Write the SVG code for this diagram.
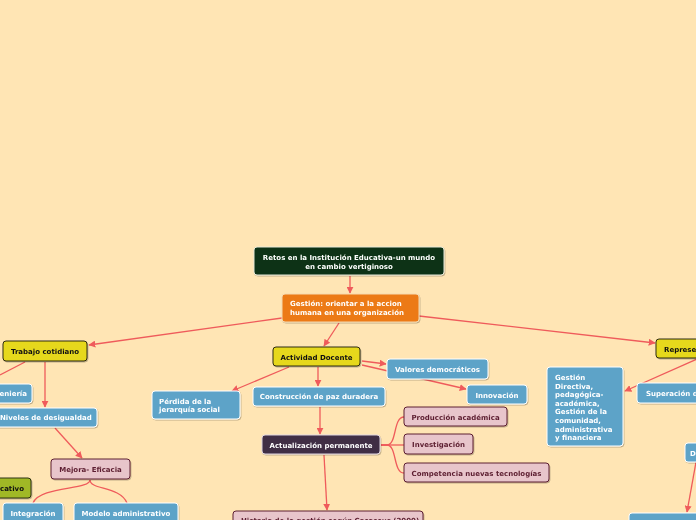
<svg xmlns="http://www.w3.org/2000/svg" width="696" height="520" viewBox="0 0 696 520">
<style>
text{font-family:"DejaVu Sans","Verdana",sans-serif;font-weight:bold;font-size:7px}
.blue rect{fill:#5DA3C8;stroke:#ffffff;stroke-width:1}
.blue text{fill:#ffffff}
.pink rect{fill:#E8C5CB;stroke:#5C1E30;stroke-width:1}
.pink text{fill:#5C1E30}
.yellow rect{fill:#E6D81E;stroke:#2E2A10;stroke-width:1}
.yellow text{fill:#111111}
.olive rect{fill:#A0B828;stroke:#2E3310;stroke-width:1}
.olive text{fill:#111111}
.dark rect{fill:#3F2D45;stroke:#E0D6E0;stroke-width:1}
.dark text{fill:#ffffff}
.orange rect{fill:#EC7A14;stroke:#F5D9B0;stroke-width:1}
.orange text{fill:#ffffff}
.green rect{fill:#0A3314;stroke:#E8E8D8;stroke-width:1}
.green text{fill:#ffffff}
.c{text-anchor:middle}
.e{text-anchor:end}
#connectors path{fill:none;stroke:#EF5B5B;stroke-width:1.3}
.arr{marker-end:url(#ah)}
g.n{filter:url(#sh)}
</style>
<defs>
<marker id="ah" viewBox="0 0 10 10" refX="9" refY="5" markerWidth="7" markerHeight="7" markerUnits="userSpaceOnUse" orient="auto">
<path d="M0,0 L10,5 L0,10 z" fill="#EF5B5B"/>
</marker>
<filter id="sh" x="-10%" y="-20%" width="130%" height="150%">
<feDropShadow dx="0.8" dy="1" stdDeviation="0.7" flood-color="#000" flood-opacity="0.25"/>
</filter>
</defs>
<rect x="0" y="0" width="696" height="520" fill="#FFE5B4"/>

<g id="connectors">
<path class="arr" d="M350,276 L350,293"/>
<path class="arr" d="M282,318 L89,345"/>
<path class="arr" d="M339,323 L324,346"/>
<path class="arr" d="M419,316 L655,343"/>
<path d="M25,362 L0,375"/>
<path class="arr" d="M45,362 L45,407"/>
<path class="arr" d="M55,428 L82,458"/>
<path d="M90,480 C90,490 40,486 33,503"/>
<path d="M90,480 C90,490 120,486 127,503"/>
<path class="arr" d="M289,367 L232,391"/>
<path class="arr" d="M318,367 L318,386"/>
<path class="arr" d="M362,361 L386,364"/>
<path class="arr" d="M362,365 L466,389"/>
<path class="arr" d="M320,407 L320,434"/>
<path d="M381,445 L387,445 C397,445 393,417 404,417"/>
<path d="M381,445 L404,445"/>
<path d="M381,445 L387,445 C397,445 393,473 404,473"/>
<path class="arr" d="M324,455 L327,510"/>
<path class="arr" d="M697,359 L625,391"/>
<path class="arr" d="M696,462 L687,512"/>
</g>

<g id="root" class="n green">
<rect x="254" y="247" width="190" height="28" rx="3"/>
<text class="c" x="349" y="259.5">Retos en la Institución Educativa-un mundo</text>
<text class="c" x="349" y="268.5">en cambio vertiginoso</text>
</g>

<g id="gestion" class="n orange">
<rect x="282" y="294" width="137" height="28" rx="3"/>
<text x="290" y="305.5">Gestión: orientar a la accion</text>
<text x="290" y="314.5">humana en una organización</text>
</g>

<g id="trabajo" class="n yellow">
<rect x="3" y="341" width="84" height="20" rx="3"/>
<text class="c" x="45" y="353.5">Trabajo cotidiano</text>
</g>

<g id="ingenieria" class="n blue">
<rect x="-40" y="384" width="72" height="19" rx="3"/>
<text class="e" x="27" y="396">Ingeniería</text>
</g>

<g id="niveles" class="n blue">
<rect x="-8" y="408" width="105" height="19" rx="3"/>
<text x="0" y="420">Niveles de desigualdad</text>
</g>

<g id="mejora" class="n pink">
<rect x="51" y="459" width="79" height="20" rx="3"/>
<text class="c" x="90.5" y="471.5">Mejora- Eficacia</text>
</g>

<g id="educativo" class="n olive">
<rect x="-40" y="478" width="71" height="20" rx="3"/>
<text class="e" x="24" y="490.5">Educativo</text>
</g>

<g id="integracion" class="n blue">
<rect x="3" y="503" width="60" height="24" rx="3"/>
<text class="c" x="33" y="516">Integración</text>
</g>

<g id="modelo" class="n blue">
<rect x="74" y="503" width="104" height="24" rx="3"/>
<text class="c" x="126" y="516">Modelo administrativo</text>
</g>

<g id="actividad" class="n yellow">
<rect x="273" y="347" width="87" height="19" rx="3"/>
<text class="c" x="316.5" y="359.5">Actividad Docente</text>
</g>

<g id="perdida" class="n blue">
<rect x="152" y="391" width="88" height="28" rx="3"/>
<text x="159" y="403.5">Pérdida de la</text>
<text x="159" y="411.5">jerarquía social</text>
</g>

<g id="construccion" class="n blue">
<rect x="253" y="387" width="132" height="19" rx="3"/>
<text class="c" x="319" y="399">Construcción de paz duradera</text>
</g>

<g id="valores" class="n blue">
<rect x="387" y="359" width="101" height="20" rx="3"/>
<text class="c" x="437.5" y="371.5">Valores democráticos</text>
</g>

<g id="innovacion" class="n blue">
<rect x="467" y="385" width="60" height="19" rx="3"/>
<text class="c" x="497" y="397.5">Innovación</text>
</g>

<g id="actualizacion" class="n dark">
<rect x="262" y="435" width="118" height="19" rx="3"/>
<text class="c" x="321" y="447.5">Actualización permanente</text>
</g>

<g id="produccion" class="n pink">
<rect x="404" y="407" width="103" height="19" rx="3"/>
<text class="c" x="455.5" y="419.5">Producción académica</text>
</g>

<g id="investigacion" class="n pink">
<rect x="404" y="434" width="69" height="20" rx="3"/>
<text class="c" x="438.5" y="446.5">Investigación</text>
</g>

<g id="competencia" class="n pink">
<rect x="404" y="463" width="145" height="19" rx="3"/>
<text class="c" x="476.5" y="475.5">Competencia nuevas tecnologías</text>
</g>

<g id="historia" class="n pink">
<rect x="233" y="511" width="190" height="28" rx="3"/>
<text x="241" y="522.5">Historia de la gestión según Casassus (2000)</text>
</g>

<g id="representa" class="n yellow">
<rect x="656" y="339" width="80" height="19" rx="3"/>
<text x="664" y="351.5">Representación</text>
</g>

<g id="gestiondirectiva" class="n blue">
<rect x="547" y="367" width="76" height="79" rx="3"/>
<text x="555" y="380">Gestión</text>
<text x="555" y="388.6">Directiva,</text>
<text x="555" y="397.2">pedagógica-</text>
<text x="555" y="405.8">académica,</text>
<text x="555" y="414.4">Gestión de la</text>
<text x="555" y="423">comunidad,</text>
<text x="555" y="431.6">administrativa</text>
<text x="555" y="440.2">y financiera</text>
</g>

<g id="superacion" class="n blue">
<rect x="637" y="383" width="100" height="20" rx="3"/>
<text x="646" y="395.5">Superación de</text>
</g>

<g id="desarrollo" class="n blue">
<rect x="685" y="443" width="40" height="19" rx="3"/>
<text x="690" y="455.5">D</text>
</g>

<g id="bottomright" class="n blue">
<rect x="629" y="513" width="100" height="24" rx="3"/>
</g>
</svg>
